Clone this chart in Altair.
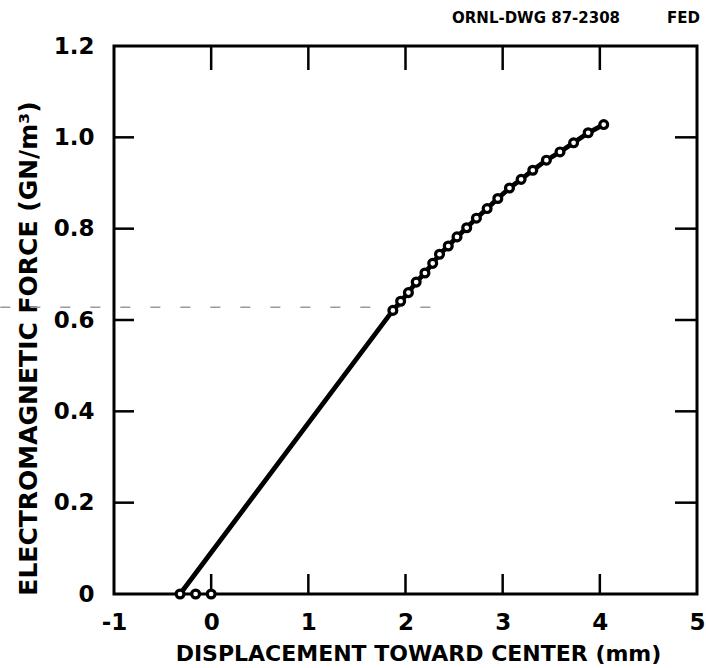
import altair as alt
import pandas as pd

# ---- data (displacement mm, force GN/m^3) ----
curve_x = [1.87, 1.95, 2.03, 2.11, 2.20, 2.28, 2.35, 2.44, 2.53, 2.63, 2.73,
           2.84, 2.95, 3.07, 3.19, 3.31, 3.45, 3.59, 3.73, 3.88, 4.04]
curve_y = [0.621, 0.641, 0.660, 0.683, 0.703, 0.724, 0.744, 0.762, 0.782, 0.802, 0.823,
           0.844, 0.866, 0.889, 0.908, 0.928, 0.950, 0.968, 0.988, 1.010, 1.028]
zero_x = [-0.32, -0.16, 0.0]
zero_y = [0.0, 0.0, 0.0]
line_start_x = [-0.32]
line_start_y = [0.0]

x_tick_vals = [0, 1, 2, 3, 4]
y_tick_vals = [0.2, 0.4, 0.6, 0.8, 1.0]
x_label_vals = [-1, 0, 1, 2, 3, 4, 5]
y_label_vals = [0, 0.2, 0.4, 0.6, 0.8, 1.0, 1.2]

# faint dashed scan line crossing the figure
dash_x = [-2.17, 2.36]
dash_y = [0.628, 0.628]

W, H = 583, 548
FONT = "DejaVu Sans"

pts = pd.DataFrame({"x": zero_x + curve_x, "y": zero_y + curve_y})
line_df = pd.DataFrame({"x": line_start_x + curve_x, "y": line_start_y + curve_y,
                        "o": list(range(len(curve_x) + 1))})
xt = pd.DataFrame({"x": x_tick_vals})
yt = pd.DataFrame({"y": y_tick_vals})
dash_df = pd.DataFrame({"x": [dash_x[0]], "x2": [dash_x[1]], "y": [dash_y[0]]})

xscale = alt.Scale(domain=[-1, 5], nice=False, zero=False)
yscale = alt.Scale(domain=[0, 1.2], nice=False, zero=False)

xaxis = alt.Axis(
    values=x_label_vals,
    labelExpr="datum.value < 0 ? '-' + abs(datum.value) : '' + datum.value",
    title="DISPLACEMENT TOWARD CENTER (mm)", ticks=False, tickSize=0,
    labelPadding=17, labelFontSize=23, labelFont=FONT, labelFontWeight="bold",
    labelColor="black", titleFontSize=22, titleFont=FONT, titleFontWeight="bold",
    titleColor="black", titleX=304, titleY=66, titleBaseline="alphabetic",
    titleAnchor="middle", titleAlign="center", domain=False, grid=False,
    labelFlush=False, labelOverlap=False,
)
yaxis = alt.Axis(
    values=y_label_vals,
    labelExpr="datum.value == 0 ? '0' : format(datum.value, '.1f')",
    title="ELECTROMAGNETIC FORCE (GN/m\u00b3)", ticks=False, tickSize=0,
    labelPadding=20, labelFontSize=23, labelFont=FONT, labelFontWeight="bold",
    labelColor="black", titleFontSize=25, titleFont=FONT, titleFontWeight="bold",
    titleColor="black", titleX=-86, titleY=302, titleAngle=270,
    titleBaseline="middle", titleAlign="center", domain=False, grid=False,
    labelFlush=False, labelOverlap=False,
)

dash = alt.Chart(dash_df).mark_rule(color="#9a9a9a", strokeWidth=1.5,
                                    strokeDash=[10, 20]).encode(
    x=alt.X("x:Q", scale=xscale, axis=xaxis),
    x2="x2:Q",
    y=alt.Y("y:Q", scale=yscale, axis=yaxis),
)

line = alt.Chart(line_df).mark_line(color="black", strokeWidth=4.8).encode(
    x=alt.X("x:Q", scale=xscale),
    y=alt.Y("y:Q", scale=yscale),
    order="o:Q",
)

points = alt.Chart(pts).mark_point(shape="circle", filled=False, fill="white",
                                   fillOpacity=1, color="black", strokeWidth=3.2,
                                   size=62, opacity=1).encode(
    x=alt.X("x:Q", scale=xscale),
    y=alt.Y("y:Q", scale=yscale),
)

tick_style = dict(color="black", strokeWidth=2.5)
bottom_ticks = alt.Chart(xt).mark_rule(**tick_style).encode(
    x=alt.X("x:Q", scale=xscale), y=alt.value(H), y2=alt.value(H - 20))
top_ticks = alt.Chart(xt).mark_rule(**tick_style).encode(
    x=alt.X("x:Q", scale=xscale), y=alt.value(0), y2=alt.value(24))
left_ticks = alt.Chart(yt).mark_rule(**tick_style).encode(
    y=alt.Y("y:Q", scale=yscale), x=alt.value(0), x2=alt.value(20))
right_ticks = alt.Chart(yt).mark_rule(**tick_style).encode(
    y=alt.Y("y:Q", scale=yscale), x=alt.value(W), x2=alt.value(W - 22))

chart = alt.layer(
    dash, bottom_ticks, top_ticks, left_ticks, right_ticks, line, points
).properties(
    width=W, height=H,
    background="white",
    title=alt.TitleParams(
        "ORNL-DWG 87-2308" + "\u00a0" * 9 + "FED",
        anchor="end", orient="top", frame="group", offset=9, fontSize=15,
        font=FONT, fontWeight="bold", color="black", dx=3,
    ),
    autosize=alt.AutoSizeParams(type="none"),
    padding={"left": 114, "top": 46, "right": 9, "bottom": 74},
).configure_view(
    stroke="black", strokeWidth=3, fill="white"
)

chart.save("out.html", embed_options={"renderer": "svg", "actions": False})
